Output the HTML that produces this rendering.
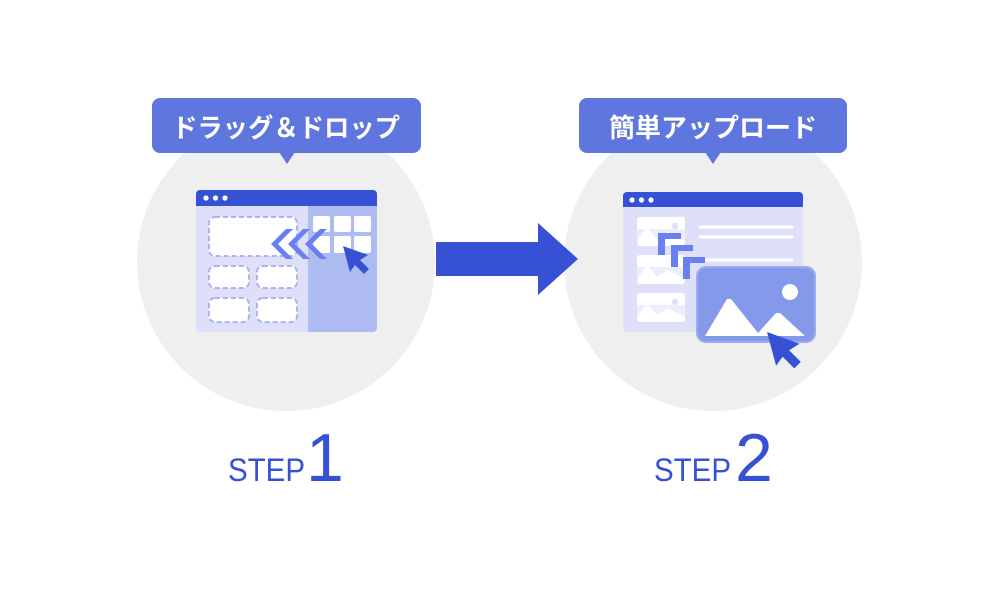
<!DOCTYPE html>
<html>
<head>
<meta charset="utf-8">
<style>
html,body{margin:0;padding:0;background:#ffffff;}
svg{display:block;}
</style>
</head>
<body>
<svg width="1000" height="600" viewBox="0 0 1000 600" xmlns="http://www.w3.org/2000/svg">
  <rect x="0" y="0" width="1000" height="600" fill="#ffffff"/>

  <!-- circles -->
  <circle cx="286" cy="262" r="149" fill="#efefef"/>
  <circle cx="713" cy="262" r="149" fill="#efefef"/>

  <!-- big arrow -->
  <polygon points="436,242 538,242 538,223 578,259 538,295 538,276 436,276" fill="#3651d4"/>

  <!-- label 1 -->
  <rect x="152" y="98" width="269" height="55" rx="8" fill="#5f76de"/>
  <polygon points="279,152 295,152 287,164" fill="#5f76de"/>
  <text x="172" y="137" font-family="'Liberation Sans','Noto Sans CJK JP',sans-serif" font-weight="bold" font-size="26" fill="#ffffff" textLength="228" lengthAdjust="spacingAndGlyphs">ドラッグ＆ドロップ</text>

  <!-- label 2 -->
  <rect x="579" y="98" width="268" height="55" rx="8" fill="#5f76de"/>
  <polygon points="705,152 721,152 713,164" fill="#5f76de"/>
  <text x="609" y="137" font-family="'Liberation Sans','Noto Sans CJK JP',sans-serif" font-weight="bold" font-size="26" fill="#ffffff" textLength="208" lengthAdjust="spacingAndGlyphs">簡単アップロード</text>

  <!-- window 1 -->
  <rect x="196" y="190" width="181" height="142" rx="4" fill="#dde0f8"/>
  <path d="M308,206 H377 V328 A4,4 0 0 1 373,332 H308 Z" fill="#aebbf0"/>
  <path d="M196,206 V194 A4,4 0 0 1 200,190 H373 A4,4 0 0 1 377,194 V206 Z" fill="#3651d4"/>
  <circle cx="206" cy="198" r="2.6" fill="#ffffff"/>
  <circle cx="215.5" cy="198" r="2.6" fill="#ffffff"/>
  <circle cx="225" cy="198" r="2.6" fill="#ffffff"/>

  <g fill="#ffffff" stroke="#a9b4f0" stroke-width="2" stroke-dasharray="5 3">
    <rect x="209" y="217" width="88" height="39" rx="6"/>
    <rect x="209" y="266" width="40" height="22" rx="6"/>
    <rect x="257" y="266" width="40" height="22" rx="6"/>
    <rect x="209" y="298" width="40" height="24" rx="6"/>
    <rect x="257" y="298" width="40" height="24" rx="6"/>
  </g>

  <g fill="#ffffff">
    <rect x="313" y="216" width="17" height="16" rx="2"/>
    <rect x="334" y="216" width="17" height="16" rx="2"/>
    <rect x="354" y="216" width="17" height="16" rx="2"/>
    <rect x="313" y="236" width="17" height="17" rx="2"/>
    <rect x="334" y="236" width="17" height="17" rx="2"/>
    <rect x="354" y="236" width="17" height="17" rx="2"/>
  </g>

  <!-- chevrons -->
  <g fill="#6b80f0">
    <polygon points="271,244 286,229 293,229 278,244 293,259 286,259"/>
    <polygon points="288,244 303,229 310,229 295,244 310,259 303,259"/>
    <polygon points="305,244 320,229 327,229 312,244 327,259 320,259"/>
  </g>

  <!-- cursor 1 -->
  <polygon transform="translate(343,246)" points="0,0 25,9 17,14 26,23 21,28 12,19 7,26" fill="#3651d4"/>

  <!-- window 2 -->
  <rect x="623" y="192" width="180" height="140" rx="4" fill="#dde0f8"/>
  <path d="M623,207 V196 A4,4 0 0 1 627,192 H799 A4,4 0 0 1 803,196 V207 Z" fill="#3651d4"/>
  <circle cx="632" cy="200" r="2.6" fill="#ffffff"/>
  <circle cx="641.5" cy="200" r="2.6" fill="#ffffff"/>
  <circle cx="651" cy="200" r="2.6" fill="#ffffff"/>

  <!-- text lines -->
  <g stroke="#ffffff" stroke-width="3" stroke-linecap="round">
    <line x1="700" y1="227" x2="792" y2="227"/>
    <line x1="700" y1="237" x2="792" y2="237"/>
    <line x1="700" y1="260" x2="792" y2="260"/>
  </g>

  <!-- thumbnails -->
  <g>
    <g transform="translate(637,217)">
      <rect x="0" y="0" width="48" height="29" rx="3" fill="#ffffff"/>
      <rect x="0" y="12" width="48" height="14" fill="#eceefc"/>
      <polygon points="0,26 0,24 10,10 20,22 31,15 48,24 48,26" fill="#ffffff"/>
      <circle cx="38" cy="9" r="3.2" fill="#dde0f8"/>
    </g>
    <g transform="translate(637,255)">
      <rect x="0" y="0" width="48" height="29" rx="3" fill="#ffffff"/>
      <rect x="0" y="12" width="48" height="14" fill="#eceefc"/>
      <polygon points="0,26 0,24 10,10 20,22 31,15 48,24 48,26" fill="#ffffff"/>
      <circle cx="38" cy="9" r="3.2" fill="#dde0f8"/>
    </g>
    <g transform="translate(637,293)">
      <rect x="0" y="0" width="48" height="29" rx="3" fill="#ffffff"/>
      <rect x="0" y="12" width="48" height="14" fill="#eceefc"/>
      <polygon points="0,26 0,24 10,10 20,22 31,15 48,24 48,26" fill="#ffffff"/>
      <circle cx="38" cy="9" r="3.2" fill="#dde0f8"/>
    </g>
  </g>

  <!-- L brackets -->
  <g fill="#6b80f0">
    <polygon points="658,233 681,233 681,239 665,239 665,255 658,255"/>
    <polygon points="671,245 693,245 693,251 678,251 678,267 671,267"/>
    <polygon points="683,257 705,257 705,263 690,263 690,279 683,279"/>
  </g>

  <!-- big image card -->
  <rect x="697" y="267" width="118" height="75" rx="9" fill="#8599eb" stroke="#9dacf1" stroke-width="2"/>
  <circle cx="790" cy="292" r="8" fill="#ffffff"/>
  <polygon points="705,336 727,299 731,299 758,333 776,313 780,313 805,336" fill="#ffffff"/>

  <!-- cursor 2 -->
  <polygon transform="translate(767,332) scale(1.3)" points="0,0 25,9 17,14 26,23 21,28 12,19 7,26" fill="#3651d4"/>

  <!-- STEP labels -->
  <text x="228" y="481" font-family="'Liberation Sans',sans-serif" font-size="32" fill="#3651d4" textLength="77" lengthAdjust="spacingAndGlyphs">STEP</text>
  <text x="306" y="481" font-family="'Liberation Sans',sans-serif" font-size="68" fill="#3651d4">1</text>
  <text x="654" y="481" font-family="'Liberation Sans',sans-serif" font-size="32" fill="#3651d4" textLength="77" lengthAdjust="spacingAndGlyphs">STEP</text>
  <text x="735" y="481" font-family="'Liberation Sans',sans-serif" font-size="68" fill="#3651d4">2</text>
</svg>
</body>
</html>
